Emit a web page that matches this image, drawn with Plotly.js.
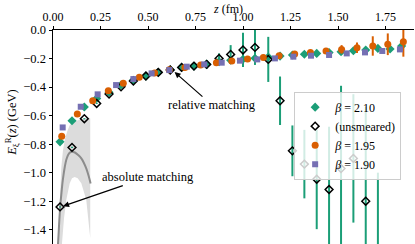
<!DOCTYPE html>
<html>
<head>
<meta charset="utf-8">
<script src="https://cdn.plot.ly/plotly-3.0.1.min.js"></script>
<style>html,body{margin:0;padding:0;background:#fff;}#chart{width:415px;height:244px;}</style>
</head>
<body>
<div id="chart"></div>
<script>
// beta = 2.10 (smeared)
const z210 = [0.037,0.100,0.165,0.230,0.295,0.358,0.423,0.489,0.554,0.617,0.677,0.742,0.809,0.874,0.935,1.000,1.063,1.133,1.195,1.260,1.323,1.388,1.453,1.516,1.581,1.646,1.710,1.774,1.835];
const e210 = [-0.784,-0.636,-0.540,-0.480,-0.437,-0.386,-0.352,-0.323,-0.297,-0.279,-0.262,-0.253,-0.238,-0.222,-0.212,-0.205,-0.198,-0.190,-0.183,-0.175,-0.170,-0.164,-0.158,-0.152,-0.145,-0.140,-0.129,-0.133,-0.112];
const err210 = [0.005,0.004,0.004,0.004,0.004,0.004,0.004,0.004,0.005,0.005,0.006,0.006,0.007,0.008,0.008,0.009,0.010,0.010,0.011,0.012,0.012,0.013,0.014,0.015,0.016,0.017,0.018,0.019,0.020];
// beta = 2.10 unsmeared
const zUn = [0.037,0.100,0.165,0.230,0.295,0.358,0.423,0.489,0.554,0.617,0.677,0.742,0.809,0.874,0.935,1.000,1.063,1.133,1.195,1.260,1.323,1.388,1.453,1.516,1.581,1.646,1.710];
const eUn = [-1.240,-0.823,-0.622,-0.515,-0.449,-0.398,-0.358,-0.323,-0.297,-0.280,-0.262,-0.253,-0.241,-0.199,-0.171,-0.140,-0.122,-0.206,-0.496,-0.847,-0.940,-1.046,-1.118,-0.971,-0.900,-1.200,-1.550];
const errUn = [0.004,0.004,0.004,0.004,0.004,0.004,0.004,0.005,0.006,0.008,0.010,0.012,0.030,0.035,0.065,0.120,0.123,0.158,0.170,0.178,0.240,0.350,0.440,0.580,0.450,0.660,0.550];
// beta = 1.95
const z195 = [0.046,0.128,0.209,0.291,0.370,0.454,0.535,0.612,0.694,0.777,0.860,0.941,1.024,1.107,1.190,1.272,1.355,1.437,1.519,1.600,1.683,1.762,1.844];
const e195 = [-0.744,-0.589,-0.496,-0.426,-0.374,-0.332,-0.302,-0.278,-0.262,-0.246,-0.229,-0.218,-0.204,-0.192,-0.180,-0.168,-0.157,-0.147,-0.136,-0.124,-0.112,-0.100,-0.082];
const err195 = [0.004,0.004,0.004,0.004,0.004,0.004,0.004,0.005,0.005,0.006,0.007,0.008,0.009,0.010,0.012,0.013,0.014,0.016,0.030,0.037,0.068,0.076,0.105];
// beta = 1.90
const z190 = [0.051,0.146,0.235,0.332,0.423,0.519,0.612,0.704,0.796,0.888,0.984,1.075,1.168,1.265,1.358,1.453,1.546,1.642,1.733,1.826];
const e190 = [-0.683,-0.538,-0.451,-0.386,-0.344,-0.304,-0.281,-0.257,-0.241,-0.229,-0.215,-0.206,-0.199,-0.187,-0.180,-0.175,-0.164,-0.157,-0.147,-0.136];
const err190 = [0.004,0.004,0.004,0.004,0.004,0.004,0.004,0.004,0.005,0.005,0.006,0.006,0.007,0.008,0.009,0.010,0.011,0.013,0.015,0.018];
// absolute matching curve and band
const zCurve = [0.024,0.029,0.033,0.038,0.044,0.050,0.056,0.062,0.070,0.080,0.090,0.100,0.112,0.125,0.137,0.149,0.162,0.175,0.187,0.198];
const eCurve = [-1.55,-1.44,-1.34,-1.24,-1.15,-1.07,-1.01,-0.96,-0.91,-0.875,-0.858,-0.854,-0.857,-0.868,-0.882,-0.900,-0.930,-0.970,-1.020,-1.076];
const zBand = [0.024,0.030,0.036,0.044,0.052,0.062,0.075,0.088,0.105,0.120,0.132,0.150,0.175,0.196,0.196,0.193,0.175,0.149,0.130,0.114,0.100,0.088,0.070,0.058,0.047,0.040];
const eBand = [-1.55,-1.35,-1.15,-0.96,-0.85,-0.77,-0.71,-0.667,-0.645,-0.635,-0.632,-0.625,-0.618,-0.620,-1.46,-1.42,-1.19,-1.075,-1.04,-1.03,-1.04,-1.075,-1.19,-1.32,-1.50,-1.65];
const xTicks = [0,0.25,0.5,0.75,1.0,1.25,1.5,1.75];
const yTicks = [0,-0.2,-0.4,-0.6,-0.8,-1.0,-1.2,-1.4];

const GREEN = '#1b9e77', ORANGE = '#d95f02', PURPLE = '#7570b3';
const SERIF = '"Liberation Serif", "Times New Roman", serif';

const traces = [
  {x: zBand, y: eBand, mode: 'lines', fill: 'toself', fillcolor: '#dcdcdc', line: {width: 0}, showlegend: false, hoverinfo: 'skip'},
  {x: zCurve, y: eCurve, mode: 'lines', line: {color: '#8c8c8c', width: 2, shape: 'spline'}, showlegend: false},
  {x: z210, y: e210, mode: 'markers', name: '<i>β</i> = 2.10',
   marker: {symbol: 'diamond', size: 7, color: GREEN},
   error_y: {type: 'data', array: err210, color: GREEN, thickness: 2, width: 0}},
  {x: zUn, y: eUn, mode: 'markers', name: '(unsmeared)',
   marker: {symbol: 'diamond-open', size: 6, color: 'black', line: {width: 1.5, color: 'black'}},
   error_y: {type: 'data', array: errUn, color: GREEN, thickness: 2, width: 0}},
  {x: z195, y: e195, mode: 'markers', name: '<i>β</i> = 1.95',
   marker: {symbol: 'circle', size: 7, color: ORANGE},
   error_y: {type: 'data', array: err195, color: ORANGE, thickness: 2, width: 0}},
  {x: z190, y: e190, mode: 'markers', name: '<i>β</i> = 1.90',
   marker: {symbol: 'square', size: 6, color: PURPLE},
   error_y: {type: 'data', array: err190, color: PURPLE, thickness: 2, width: 0}}
];

const layout = {
  width: 415, height: 244,
  margin: {l: 53, r: 1, t: 30, b: 0},
  paper_bgcolor: 'white', plot_bgcolor: 'white',
  font: {family: SERIF, size: 12, color: 'black'},
  xaxis: {range: [0, 1.9], side: 'top', tickvals: xTicks, tickformat: '.2f',
    ticks: 'outside', ticklen: 3.5, tickwidth: 1, tickcolor: 'black',
    showline: true, linecolor: 'black', linewidth: 1, showgrid: false, zeroline: false,
    tickfont: {family: SERIF, size: 12}},
  yaxis: {range: [-1.5, 0], tickvals: yTicks, tickformat: '.1f',
    ticks: 'outside', ticklen: 3.5, tickwidth: 1, tickcolor: 'black',
    showline: true, linecolor: 'black', linewidth: 1, showgrid: false, zeroline: false,
    tickfont: {family: SERIF, size: 12.5}},
  showlegend: true,
  legend: {x: 0.668, y: 0.712, xanchor: 'left', yanchor: 'top',
    bgcolor: 'rgba(255,255,255,0.8)', bordercolor: '#cccccc', borderwidth: 1,
    font: {family: SERIF, size: 12}, tracegroupgap: 0, itemwidth: 30},
  annotations: [
    {xref: 'paper', yref: 'paper', x: 0.485, y: 1.14, text: '<i>z</i> (fm)', showarrow: false,
     font: {family: SERIF, size: 12}, xanchor: 'center', yanchor: 'top'},
    {xref: 'paper', yref: 'paper', x: -0.114, y: 0.57, text: '<i>E</i><sub>ξ</sub><sup>R</sup>(<i>z</i>) (GeV)',
     showarrow: false, textangle: -90, font: {family: SERIF, size: 12.5}, xanchor: 'center', yanchor: 'middle'},
    {xref: 'x', yref: 'y', x: 0.64, y: -0.295, text: 'relative matching', showarrow: true,
     ax: 37.5, ay: 33, arrowhead: 2, arrowsize: 1, arrowwidth: 1.2, arrowcolor: 'black',
     font: {family: SERIF, size: 12.5}},
    {xref: 'x', yref: 'y', x: 0.053, y: -1.235, text: 'absolute matching', showarrow: true,
     ax: 84.5, ay: -29, arrowhead: 2, arrowsize: 1, arrowwidth: 1.2, arrowcolor: 'black',
     font: {family: SERIF, size: 12.5}}
  ]
};

Plotly.newPlot('chart', traces, layout, {displayModeBar: false, staticPlot: true});
</script>
</body>
</html>
